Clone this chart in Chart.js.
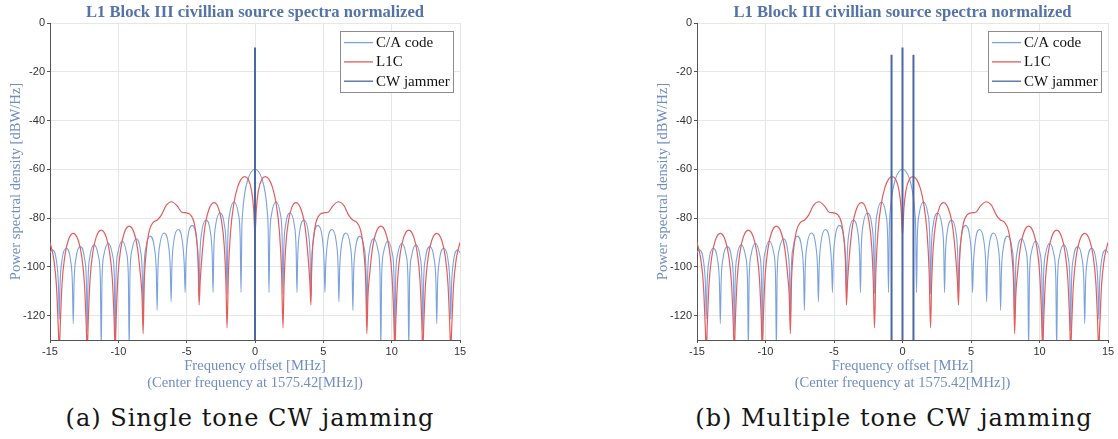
<!DOCTYPE html>
<html>
<head>
<meta charset="utf-8">
<script src="https://cdn.jsdelivr.net/npm/chart.js@4.4.1/dist/chart.umd.min.js"></script>
<style>
  html, body { margin: 0; padding: 0; background: #fff; }
  #page { position: relative; width: 1118px; height: 439px; overflow: hidden; }
  .panel { position: absolute; top: 0; height: 400px; }
  .caption { position: absolute; top: 404px; font-family: "DejaVu Serif", serif; font-size: 24px; letter-spacing: 1px; color: #151515; text-align: center; white-space: nowrap; }
</style>
</head>
<body>
<div id="page">
  <div class="panel" style="left:0;width:480px"><canvas id="chartA"></canvas></div>
  <div class="panel" style="left:647px;width:471px"><canvas id="chartB"></canvas></div>
  <div class="caption" style="left:30px;width:440px">(a) Single tone CW jamming</div>
  <div class="caption" style="left:674px;width:440px">(b) Multiple tone CW jamming</div>
</div>
<script>
// --- data (MHz offset, dBW/Hz)
const chartTitle = 'L1 Block III civillian source spectra normalized';
const seriesNames = ['C/A code', 'L1C', 'CW jammer'];
const xTicks = [-15, -10, -5, 0, 5, 10, 15];
const yTicks = [0, -20, -40, -60, -80, -100, -120];
const yMin = -130, yMax = 0;

const caFreq = [-15,-14.834,-14.527,-14.383,-14.322,-14.261,-14.117,-13.811,-13.504,-13.36,-13.299,
  -13.238,-13.094,-12.788,-12.481,-12.337,-12.276,-12.215,-12.071,-11.765,-11.458,-11.314,-11.253,
  -11.192,-11.048,-10.742,-10.435,-10.291,-10.23,-10.169,-10.025,-9.719,-9.412,-9.268,-9.207,
  -9.146,-9.002,-8.696,-8.389,-8.245,-8.184,-8.123,-7.979,-7.673,-7.366,-7.222,-7.161,
  -7.1,-6.956,-6.65,-6.343,-6.199,-6.138,-6.077,-5.933,-5.627,-5.32,-5.176,-5.115,
  -5.054,-4.91,-4.604,-4.297,-4.153,-4.092,-4.031,-3.887,-3.581,-3.274,-3.13,-3.069,
  -3.008,-2.864,-2.558,-2.251,-2.107,-2.046,-1.985,-1.841,-1.535,-1.228,-1.084,-1.023,
  -0.96,-0.9,-0.75,-0.5,-0.25,0,0.25,0.5,0.75,0.9,0.96,
  1.023,1.084,1.228,1.535,1.841,1.985,2.046,2.107,2.251,2.558,2.864,3.008,
  3.069,3.13,3.274,3.581,3.887,4.031,4.092,4.153,4.297,4.604,4.91,5.054,
  5.115,5.176,5.32,5.627,5.933,6.077,6.138,6.199,6.343,6.65,6.956,7.1,
  7.161,7.222,7.366,7.673,7.979,8.123,8.184,8.245,8.389,8.696,9.002,9.146,
  9.207,9.268,9.412,9.719,10.025,10.169,10.23,10.291,10.435,10.742,11.048,11.192,
  11.253,11.314,11.458,11.765,12.071,12.215,12.276,12.337,12.481,12.788,13.094,13.238,
  13.299,13.36,13.504,13.811,14.117,14.261,14.322,14.383,14.527,14.834,15];
const caPsd = [-94.2,-93,-97.6,-107.5,-121.5,-106.9,-97,-92.4,-97,-106.9,-123.3,
  -106.2,-96.3,-91.7,-96.3,-106.2,-126.3,-105.5,-95.6,-91,-95.6,-105.5,-134,
  -104.8,-94.9,-90.3,-94.9,-104.8,-134,-103.9,-94,-89.4,-94,-103.9,-134,
  -103,-93.1,-88.5,-93.1,-103,-122,-101.9,-92,-87.4,-92,-101.9,-117.8,
  -100.6,-90.7,-86.1,-90.7,-100.6,-114.3,-99.2,-89.3,-84.7,-89.3,-99.2,-110.5,
  -97.5,-87.6,-83,-87.6,-97.5,-112,-95.3,-85.4,-80.8,-85.4,-95.3,-110.5,
  -92.4,-82.5,-77.9,-82.5,-92.4,-111,-87.9,-78,-73.4,-78,-87.9,-110.5,
  -84,-77.5,-69.8,-63.7,-60.9,-60,-60.9,-63.7,-69.8,-77.5,-84,
  -110.5,-87.9,-78,-73.4,-78,-87.9,-111,-92.4,-82.5,-77.9,-82.5,-92.4,
  -110.5,-95.3,-85.4,-80.8,-85.4,-95.3,-112,-97.5,-87.6,-83,-87.6,-97.5,
  -110.5,-99.2,-89.3,-84.7,-89.3,-99.2,-114.3,-100.6,-90.7,-86.1,-90.7,-100.6,
  -117.8,-101.9,-92,-87.4,-92,-101.9,-122,-103,-93.1,-88.5,-93.1,-103,
  -134,-103.9,-94,-89.4,-94,-103.9,-134,-104.8,-94.9,-90.3,-94.9,-104.8,
  -134,-105.5,-95.6,-91,-95.6,-105.5,-126.3,-106.2,-96.3,-91.7,-96.3,-106.2,
  -123.3,-106.9,-97,-92.4,-97,-106.9,-121.5,-107.5,-97.6,-93,-94.2];

const l1cFreq = [-15,-14.731,-14.527,-14.404,-14.322,-14.24,-14.117,-13.913,-13.667,-13.299,
  -12.931,-12.685,-12.481,-12.358,-12.276,-12.194,-12.071,-11.867,-11.621,-11.253,
  -10.885,-10.639,-10.435,-10.312,-10.23,-10.148,-10.025,-9.821,-9.575,-9.207,
  -8.839,-8.593,-8.389,-8.266,-8.184,-8.11,-7.98,-7.75,-7.45,-7.15,-6.85,-6.5,-6.1,
  -5.7,-5.35,-5.1,-4.75,-4.45,-4.25,-4.15,-4.092,-4.01,-3.887,-3.683,-3.437,-3.0,
  -2.701,-2.455,-2.251,-2.128,-2.046,-1.944,-1.79,-1.535,-1.28,-1.023,-0.77,-0.5,
  -0.25,-0.1,-0.05,0,0.05,0.1,0.25,0.5,0.77,1.023,1.28,1.535,1.79,1.944,2.046,
  2.128,2.251,2.455,2.701,3.0,3.437,3.683,3.887,4.01,4.092,
  4.15,4.25,4.45,4.75,5.1,5.35,5.7,6.1,6.5,6.85,7.15,7.45,7.75,7.98,8.11,8.184,
  8.266,8.389,8.593,8.839,9.207,9.575,9.821,10.025,10.148,10.23,
  10.312,10.435,10.639,10.885,11.253,11.621,11.867,12.071,12.194,12.276,
  12.358,12.481,12.685,12.931,13.299,13.667,13.913,14.117,14.24,14.322,
  14.404,14.527,14.731,15];
const l1cPsd = [-90,-96.6,-107.8,-123.5,-134,-122.4,-106.7,-95.5,-89.2,-86.3,
  -89.2,-95.5,-106.7,-122.4,-134,-121,-105.3,-94.1,-87.8,-84.9,
  -87.8,-94.1,-105.3,-121,-134,-119.4,-103.7,-92.5,-86.2,-83.3,
  -86.2,-92.5,-103,-112,-127.4,-107,-95,-85.5,-81.8,-80.8,-78.8,-74.8,-73.3,
  -75,-77.6,-77.8,-78.5,-82,-90,-100,-115.6,-106,-96.1,-84.5,-77.6,-73.7,
  -75.5,-81,-91.4,-106.6,-125,-101.9,-85.7,-73.7,-67.4,-64.1,-63,-64.1,
  -68.8,-76.3,-82.3,-87,-82.3,-76.3,-68.8,-64.1,-63,-64.1,-67.4,-73.7,-85.7,-101.9,-125,
  -106.6,-91.4,-81,-75.5,-73.7,-77.6,-84.5,-96.1,-106,-115.6,
  -100,-90,-82,-78.5,-77.8,-77.6,-75,-73.3,-74.8,-78.8,-80.8,-81.8,-85.5,-95,-107,-127.4,
  -112,-103,-92.5,-86.2,-83.3,-86.2,-92.5,-103.7,-119.4,-134,
  -121,-105.3,-94.1,-87.8,-84.9,-87.8,-94.1,-105.3,-121,-134,
  -122.4,-106.7,-95.5,-89.2,-86.3,-89.2,-95.5,-106.7,-122.4,-134,
  -123.5,-107.8,-96.6,-90];

// jammer tones: (a) single tone, (b) three tones
const jamFreqA = [0];
const jamPeakA = [-10];
const jamFreqB = [-0.8, 0, 0.8];
const jamPeakB = [-13, -10, -13];

const colors = { ca: '#7aa2e0', l1c: '#e35d5d', jam: '#4a68a4' };
const titleColor = '#5473a8';
const labelColor = '#6f8ec4';

function pts(fx, fy) { return fx.map((x, i) => ({ x, y: fy[i] })); }
function tones(fx, peaks) {
  const out = [];
  fx.forEach((x, i) => { out.push({ x, y: yMin }, { x, y: peaks[i] }, { x, y: null }); });
  return out;
}

// title + legend drawn relative to the plot area
const frame = {
  id: 'frame',
  afterDraw(chart) {
    const { ctx, chartArea: a } = chart;
    ctx.save();
    ctx.font = 'bold 16.6px "Liberation Serif"';
    ctx.fillStyle = titleColor;
    ctx.textAlign = 'center'; ctx.textBaseline = 'middle';
    ctx.fillText(chartTitle, (a.left + a.right) / 2, a.top - 10);

    const w = 113, h = 61, x = a.right - 7 - w, y = a.top + 8;
    ctx.fillStyle = '#fff'; ctx.fillRect(x, y, w, h);
    ctx.strokeStyle = '#8c8c8c'; ctx.lineWidth = 1;
    ctx.strokeRect(Math.round(x) + 0.5, Math.round(y) + 0.5, w, h);
    ctx.font = '15px "Liberation Serif"';
    ctx.textAlign = 'left';
    chart.data.datasets.forEach((ds, i) => {
      const ry = y + 11.6 + i * 19.3;
      ctx.strokeStyle = ds.borderColor; ctx.lineWidth = 1.3;
      ctx.beginPath(); ctx.moveTo(x + 4, ry); ctx.lineTo(x + 33, ry); ctx.stroke();
      ctx.fillStyle = '#111';
      ctx.fillText(ds.label, x + 36, ry + 0.5);
    });
    ctx.restore();
  }
};

function makeChart(id, jf, jp, padRight) {
  const tickFont = { family: '"Liberation Sans", Arial, sans-serif', size: 11 };
  const titleFont = { family: '"Liberation Serif", serif', size: 14.6, lineHeight: 1.19 };
  return new Chart(document.getElementById(id), {
    type: 'line',
    data: {
      datasets: [
        { label: seriesNames[0], data: pts(caFreq, caPsd), borderColor: colors.ca, borderWidth: 1.1,
          cubicInterpolationMode: 'monotone', pointRadius: 0, order: 3 },
        { label: seriesNames[1], data: pts(l1cFreq, l1cPsd), borderColor: colors.l1c, borderWidth: 1.2,
          cubicInterpolationMode: 'monotone', pointRadius: 0, order: 2 },
        { label: seriesNames[2], data: tones(jf, jp), borderColor: colors.jam, borderWidth: 2,
          tension: 0, pointRadius: 0, spanGaps: false, order: 1 }
      ]
    },
    options: {
      responsive: true, maintainAspectRatio: false, animation: false,
      layout: { padding: { top: 23, left: 6, right: padRight, bottom: 0 } },
      plugins: { legend: { display: false }, tooltip: { enabled: false } },
      scales: {
        x: {
          type: 'linear', min: -15, max: 15,
          afterBuildTicks: s => { s.ticks = xTicks.map(v => ({ value: v })); },
          afterFit: s => { s.height = 60; },
          grid: { color: '#e6e6e6', tickLength: 3, tickColor: '#555' },
          border: { color: '#555' },
          ticks: { font: tickFont, color: '#333', padding: 2, maxRotation: 0 },
          title: { display: true, text: ['Frequency offset [MHz]', '(Center frequency at 1575.42[MHz])'],
            color: labelColor, font: titleFont, padding: { top: 0, bottom: 8 } }
        },
        y: {
          min: yMin, max: yMax,
          afterBuildTicks: s => { s.ticks = yTicks.map(v => ({ value: v })); },
          afterFit: s => { s.width = 44; },
          grid: { color: '#e6e6e6', tickLength: 3, tickColor: '#555' },
          border: { color: '#555' },
          ticks: { font: tickFont, color: '#333', padding: 2 },
          title: { display: true, text: 'Power spectral density [dBW/Hz]',
            color: labelColor, font: titleFont, padding: { top: 1, bottom: 0 } }
        }
      }
    },
    plugins: [frame]
  });
}

makeChart('chartA', jamFreqA, jamPeakA, 20);
makeChart('chartB', jamFreqB, jamPeakB, 10);
</script>
</body>
</html>
